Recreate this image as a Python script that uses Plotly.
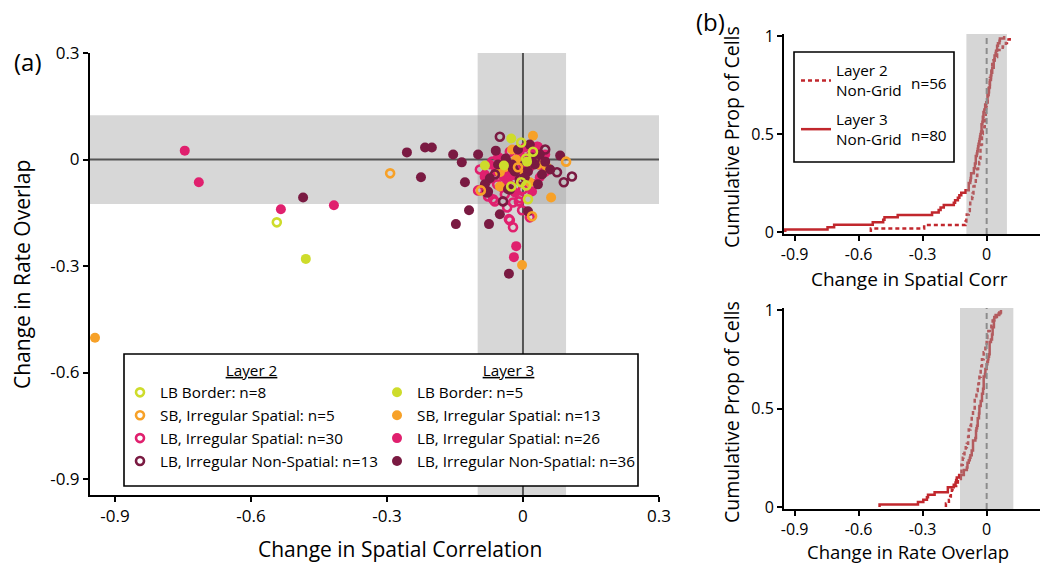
import numpy as np
import plotly.graph_objects as go

# ---------------- data (panel a) ----------------
# Layer 2 (open markers)
l2_border_x = [-0.543, -0.004, 0.022, 0.007, -0.026, -0.004, 0.007, 0.011]
l2_border_y = [-0.177, 0.048, 0.022, 0.003, -0.076, -0.064, -0.073, -0.112]

l2_sb_x = [-0.293, 0.095, -0.093, 0.020, -0.011]
l2_sb_y = [-0.039, -0.006, -0.087, -0.160, -0.022]

l2_lbs_x = [-0.031, -0.022, 0.015, -0.077, -0.062, -0.009, -0.095, -0.068, -0.029, 0.031,
            -0.084, -0.099, -0.066, -0.022, -0.002, -0.029, -0.007, -0.044, 0.009, -0.057,
            -0.040, 0.037, -0.018, 0.015, -0.051, -0.077, 0.000, 0.049, -0.035, 0.024]
l2_lbs_y = [-0.168, -0.191, -0.163, -0.104, -0.118, -0.118, -0.028, -0.006, 0.022, 0.036,
            -0.048, -0.087, -0.112, -0.121, -0.143, -0.171, -0.109, 0.000, -0.028, -0.070,
            -0.098, -0.014, -0.056, 0.008, -0.022, -0.056, -0.084, -0.034, -0.135, -0.070]

l2_lbn_x = [-0.051, -0.022, 0.075, 0.108, 0.090, -0.044, -0.079, -0.007, 0.026, -0.062,
            0.049, -0.029, 0.004]
l2_lbn_y = [0.064, -0.025, -0.036, -0.048, -0.064, -0.118, -0.093, -0.056, 0.000, -0.042,
            0.028, -0.084, -0.014]

# Layer 3 (filled markers)
l3_border_x = [-0.479, -0.026, -0.084, -0.042, 0.009]
l3_border_y = [-0.280, 0.059, -0.017, -0.017, -0.006]

l3_sb_x = [-0.944, 0.022, 0.062, -0.002, 0.053, -0.051, -0.051, -0.015, 0.015, -0.040,
           0.004, 0.033, -0.024]
l3_sb_y = [-0.502, 0.067, -0.107, -0.297, -0.022, -0.036, -0.076, 0.000, -0.064, -0.022,
           -0.042, -0.014, 0.028]

l3_lbs_x = [-0.746, -0.715, -0.534, -0.417, -0.015, -0.020, -0.044, -0.029, -0.007, 0.033,
            -0.055, -0.073, -0.035, -0.018, 0.015, 0.044, 0.026, -0.060, -0.007, -0.024,
            0.049, -0.084, 0.004, -0.046, 0.020, 0.037]
l3_lbs_y = [0.025, -0.064, -0.140, -0.129, -0.244, -0.275, -0.048, -0.036, 0.014, 0.036,
            0.008, -0.014, -0.064, -0.093, -0.022, 0.000, 0.028, -0.034, -0.028, -0.045,
            0.014, -0.042, 0.034, -0.079, -0.090, -0.050]

l3_lbn_x = [-0.485, -0.256, -0.216, -0.201, -0.154, -0.135, -0.225, -0.128, -0.119, -0.148,
            -0.099, -0.075, -0.051, -0.031, 0.011, 0.082, 0.033, -0.077, -0.073, -0.060,
            -0.038, 0.015, 0.037, 0.011, -0.033, 0.026, 0.049, -0.011, 0.004, -0.024,
            0.060, -0.055, 0.020, -0.084, -0.018, 0.042]
l3_lbn_y = [-0.107, 0.020, 0.034, 0.034, 0.014, -0.008, -0.050, -0.064, -0.143, -0.182,
            0.014, -0.182, -0.154, -0.322, -0.146, 0.011, -0.070, -0.090, -0.053, 0.025,
            0.003, 0.042, 0.014, -0.034, -0.084, -0.014, -0.006, 0.028, -0.050, -0.014,
            -0.028, -0.014, 0.006, -0.070, -0.034, -0.042]

# tick labels
a_ticks = [-0.9, -0.6, -0.3, 0, 0.3]
a_ticktext = ["-0.9", "-0.6", "-0.3", "0", "0.3"]
b_xticks = [-0.9, -0.6, -0.3, 0]
b_xticktext = ["-0.9", "-0.6", "-0.3", "0"]
b_yticks = [0, 0.5, 1]
b_yticktext = ["0", "0.5", "1"]

# colours
YEL = "#cedc2b"
ORG = "#f7a128"
PNK = "#e0206e"
DRK = "#7a1a42"
RED = "#c1272d"
FONT = "Open Sans"

fig = go.Figure()

# ---------- panel a shading & zero lines ----------
XB = 0.095   # spatial corr band half-width
YB = 0.125   # rate overlap band half-width
fig.add_shape(type="rect", xref="x", yref="y", x0=-0.955, x1=0.3, y0=-YB, y1=YB,
              fillcolor="#d7d7d7", line_width=0, layer="below")
fig.add_shape(type="rect", xref="x", yref="y", x0=-0.1, x1=XB, y0=-0.945, y1=0.3,
              fillcolor="#d7d7d7", line_width=0, layer="below")
fig.add_shape(type="rect", xref="x", yref="y", x0=-0.1, x1=XB, y0=-YB, y1=YB,
              fillcolor="#bfbfbf", line_width=0, layer="below")
fig.add_shape(type="line", xref="x", yref="y", x0=-0.955, x1=0.3, y0=0, y1=0,
              line=dict(color="#555555", width=2), layer="below")
fig.add_shape(type="line", xref="x", yref="y", x0=0, x1=0, y0=-0.945, y1=0.3,
              line=dict(color="#555555", width=2), layer="below")

# ---------- panel a scatter ----------
# (name, x, y, colour, filled?, legend rank) -- listed in drawing order
groups = [
    ("LB, Irregular Spatial: n=30", l2_lbs_x, l2_lbs_y, PNK, False, 3),
    ("LB, Irregular Spatial: n=26", l3_lbs_x, l3_lbs_y, PNK, True, 3),
    ("SB, Irregular Spatial: n=13", l3_sb_x, l3_sb_y, ORG, True, 2),
    ("LB, Irregular Non-Spatial: n=36", l3_lbn_x, l3_lbn_y, DRK, True, 4),
    ("LB, Irregular Non-Spatial: n=13", l2_lbn_x, l2_lbn_y, DRK, False, 4),
    ("SB, Irregular Spatial: n=5", l2_sb_x, l2_sb_y, ORG, False, 2),
    ("LB Border: n=5", l3_border_x, l3_border_y, YEL, True, 1),
    ("LB Border: n=8", l2_border_x, l2_border_y, YEL, False, 1),
]
for name, xs, ys, c, filled, rank in groups:
    if filled:
        mk = dict(symbol="circle", size=10, color=c, line_width=0)
        leg = "legend2"
    else:
        mk = dict(symbol="circle-open", size=8, color=c, line=dict(width=2.6, color=c))
        leg = "legend"
    fig.add_trace(go.Scatter(x=xs, y=ys, mode="markers", name=name, legend=leg,
                             legendrank=rank, marker=mk, xaxis="x", yaxis="y",
                             hoverinfo="skip"))

# ---------- panel b: cumulative distributions ----------
l2_sc = np.array(l2_border_x + l2_sb_x + l2_lbs_x + l2_lbn_x)
l3_sc = np.array(l3_border_x + l3_sb_x + l3_lbs_x + l3_lbn_x)
l2_ro = np.array(l2_border_y + l2_sb_y + l2_lbs_y + l2_lbn_y)
l3_ro = np.array(l3_border_y + l3_sb_y + l3_lbs_y + l3_lbn_y)


def ecdf(v):
    s = np.sort(v)
    n = len(s)
    xs = np.concatenate([[s[0]], s])
    ys = np.concatenate([[0.0], np.arange(1, n + 1) / n])
    return xs, ys


for vals, xa, ya, show in [(l2_sc, "x2", "y2", True), (l2_ro, "x3", "y3", False)]:
    ex, ey = ecdf(vals)
    fig.add_trace(go.Scatter(x=ex, y=ey, mode="lines", line_shape="hv",
                             line=dict(color=RED, width=2.5, dash="4px,3px"),
                             name="Layer 2<br>Non-Grid", legend="legend3", legendgroup="l2",
                             showlegend=show, xaxis=xa, yaxis=ya, hoverinfo="skip"))
for vals, xa, ya, show in [(l3_sc, "x2", "y2", True), (l3_ro, "x3", "y3", False)]:
    ex, ey = ecdf(vals)
    fig.add_trace(go.Scatter(x=ex, y=ey, mode="lines", line_shape="hv",
                             line=dict(color=RED, width=2.5),
                             name="Layer 3<br>Non-Grid", legend="legend3", legendgroup="l3",
                             showlegend=show, xaxis=xa, yaxis=ya, hoverinfo="skip"))

# bands over the CDFs (semi-transparent) + dashed zero lines
for xa, ya, hw in [("x2", "y2", XB), ("x3", "y3", YB)]:
    fig.add_shape(type="rect", xref=xa, yref=ya, x0=-hw, x1=hw, y0=-0.01, y1=1.01,
                  fillcolor="rgba(160,160,160,0.43)", line_width=0, layer="above")
    fig.add_shape(type="line", xref=xa, yref=ya, x0=0, x1=0, y0=-0.01, y1=1.01,
                  line=dict(color="#8c8c8c", width=2, dash="6px,4px"), layer="above")

# ---------- legend boxes ----------
W, H = 1040, 564


def px(x):
    return x / W


def py(y):
    return (H - y) / H


fig.add_shape(type="rect", xref="paper", yref="paper", x0=px(124), x1=px(638),
              y0=py(486), y1=py(354), fillcolor="white", line=dict(color="black", width=1.6),
              layer="above")
fig.add_shape(type="rect", xref="paper", yref="paper", x0=px(794), x1=px(954),
              y0=py(162), y1=py(52), fillcolor="white", line=dict(color="black", width=1.6),
              layer="above")

axis_common = dict(showline=True, linecolor="black", linewidth=2, ticks="outside",
                   ticklen=5, tickwidth=2, tickcolor="black", showgrid=False,
                   zeroline=False, automargin=False,
                   tickfont=dict(family=FONT, size=17, color="black"))
axis_b = dict(axis_common, tickfont=dict(family=FONT, size=16, color="black"))

LEGFONT = dict(family=FONT, size=15.3, color="black")

fig.update_layout(
    template="none",
    width=W, height=H, margin=dict(l=0, r=0, t=0, b=0, autoexpand=False),
    paper_bgcolor="white", plot_bgcolor="rgba(0,0,0,0)",
    font=dict(family=FONT, size=16, color="black"),
    xaxis=dict(domain=[px(90), px(659)], range=[-0.955, 0.3], tickvals=a_ticks,
               ticktext=a_ticktext, anchor="y", **axis_common),
    yaxis=dict(domain=[py(495), py(53)], range=[-0.945, 0.3], tickvals=a_ticks,
               ticktext=a_ticktext, anchor="x", **axis_common),
    xaxis2=dict(domain=[px(784), 1.0], range=[-0.95, 0.25], tickvals=b_xticks,
                ticktext=b_xticktext, anchor="y2", **axis_b),
    yaxis2=dict(domain=[py(234), py(34)], range=[-0.01, 1.01], tickvals=b_yticks,
                ticktext=b_yticktext, anchor="x2", **axis_b),
    xaxis3=dict(domain=[px(784), 1.0], range=[-0.95, 0.25], tickvals=b_xticks,
                ticktext=b_xticktext, anchor="y3", **axis_b),
    yaxis3=dict(domain=[py(509), py(308)], range=[-0.01, 1.01], tickvals=b_yticks,
                ticktext=b_yticktext, anchor="x3", **axis_b),
    legend=dict(x=px(120), y=py(356), xanchor="left", yanchor="top",
                bgcolor="rgba(0,0,0,0)", borderwidth=0,
                title=dict(text="<u>Layer 2</u>", side="top center", font=LEGFONT),
                font=LEGFONT, tracegroupgap=0, itemclick=False),
    legend2=dict(x=px(377), y=py(356), xanchor="left", yanchor="top",
                 bgcolor="rgba(0,0,0,0)", borderwidth=0,
                 title=dict(text="<u>Layer 3</u>", side="top center", font=LEGFONT),
                 font=LEGFONT, tracegroupgap=0, itemclick=False),
    legend3=dict(x=px(796), y=py(54), xanchor="left", yanchor="top",
                 bgcolor="rgba(0,0,0,0)", borderwidth=0,
                 font=LEGFONT, tracegroupgap=6, itemclick=False),
    showlegend=True,
)

ann = [
    dict(text="(a)", x=px(28), y=py(62), size=24),
    dict(text="(b)", x=px(710), y=py(21), size=24),
    dict(text="Change in Spatial Correlation", x=px(400), y=py(549), size=21),
    dict(text="Change in Rate Overlap", x=px(22), y=py(275), size=21, angle=-90),
    dict(text="Cumulative Prop of Cells", x=px(731), y=py(137), size=19.5, angle=-90),
    dict(text="Cumulative Prop of Cells", x=px(731), y=py(412), size=19.5, angle=-90),
    dict(text="Change in Spatial Corr", x=px(909), y=py(279), size=19),
    dict(text="Change in Rate Overlap", x=px(908), y=py(551), size=18.5),
    dict(text="n=56", x=px(929), y=py(83), size=15.3),
    dict(text="n=80", x=px(929), y=py(135), size=15.3),
]
for a in ann:
    fig.add_annotation(text=a["text"], x=a["x"], y=a["y"], xref="paper", yref="paper",
                       xanchor="center", yanchor="middle", showarrow=False,
                       textangle=a.get("angle", 0),
                       font=dict(family=FONT, size=a["size"], color="black"))

fig.write_html("out.html",
               post_script="document.body.style.margin='0';document.body.style.overflow='hidden';")
